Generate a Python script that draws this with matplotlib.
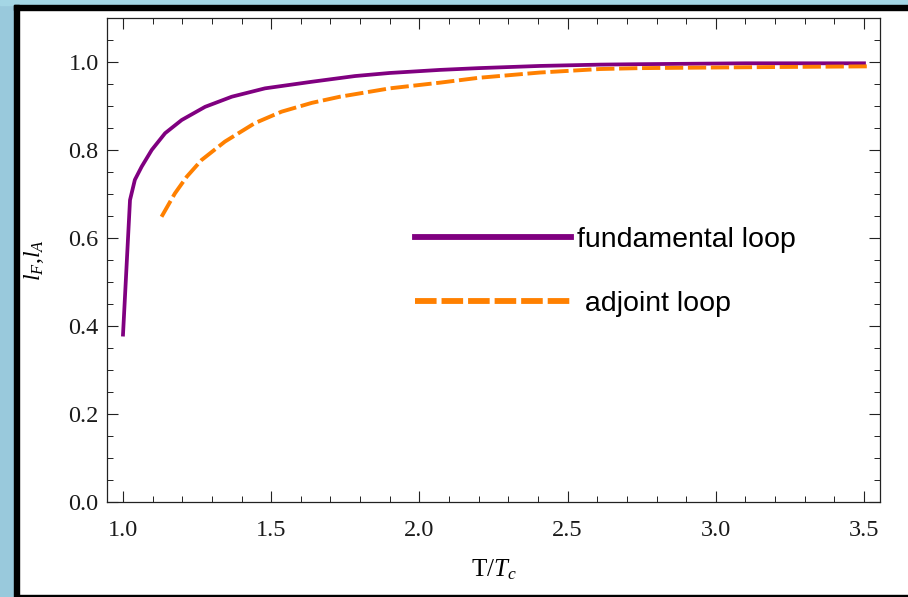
import numpy as np
import matplotlib
matplotlib.use("Agg")
import matplotlib.pyplot as plt
from matplotlib.lines import Line2D
from matplotlib.patches import Rectangle
from matplotlib.ticker import MultipleLocator, FormatStrFormatter

# ---- data ----
T_fund = [1.0, 1.0236, 1.04, 1.063, 1.097, 1.142, 1.198, 1.277, 1.367,
          1.479, 1.637, 1.783, 1.9, 2.07, 2.2, 2.407, 2.61, 2.744,
          3.1, 3.5]
l_fund = [0.38, 0.686, 0.732, 0.762, 0.800, 0.838, 0.868, 0.898, 0.921,
          0.940, 0.955, 0.968, 0.975, 0.982, 0.986, 0.991, 0.994, 0.995,
          0.997, 0.997]

T_adj = [1.13, 1.175, 1.215, 1.265, 1.344, 1.445, 1.535, 1.637, 1.732,
         1.9, 2.07, 2.2, 2.407, 2.61, 2.744, 3.1, 3.51]
l_adj = [0.648, 0.701, 0.739, 0.777, 0.819, 0.861, 0.887, 0.907, 0.921,
         0.940, 0.953, 0.964, 0.976, 0.984, 0.986, 0.988, 0.990]

labels = ['fundamental loop', ' adjoint loop']
PURPLE = '#800080'
ORANGE = '#FF8000'

plt.rcParams['font.family'] = ['Liberation Serif', 'DejaVu Serif']
plt.rcParams['mathtext.fontset'] = 'custom'
plt.rcParams['mathtext.rm'] = 'Liberation Serif'
plt.rcParams['mathtext.it'] = 'Liberation Serif:italic'


def main():
    fig = plt.figure(figsize=(9.08, 5.97), dpi=100)
    W, H = 908.0, 597.0

    # frame decoration around the figure (screenshot look)
    fig.patches.append(Rectangle((0, 0), 14 / W, 1, transform=fig.transFigure,
                                 color='#99C9DC', zorder=0))
    fig.patches.append(Rectangle((0, 1 - 5 / H), 1, 5 / H, transform=fig.transFigure,
                                 color='#A4D6E5', zorder=0))
    fig.patches.append(Rectangle((14 / W, 0), 5 / W, 1 - 5 / H, transform=fig.transFigure,
                                 color='black', zorder=1))
    fig.patches.append(Rectangle((14 / W, 1 - 10 / H), 1, 5 / H, transform=fig.transFigure,
                                 color='black', zorder=1))
    fig.patches.append(Rectangle((19 / W, 1.0 / H), 1, 1.2 / H, transform=fig.transFigure,
                                 color='black', zorder=1))

    ax = fig.add_axes([107 / W, 1 - 501.7 / H, 773 / W, 483.7 / H])

    ax.plot(T_fund, l_fund, color=PURPLE, lw=2.7, solid_joinstyle='round')
    ax.plot(T_adj, l_adj, color=ORANGE, lw=2.8, dashes=(4.7, 1.2),
            dash_capstyle='butt')

    ax.set_xlim(0.946, 3.554)
    ax.set_ylim(0.0, 1.1)
    ax.xaxis.set_major_locator(MultipleLocator(0.5))
    ax.xaxis.set_minor_locator(MultipleLocator(0.1))
    ax.yaxis.set_major_locator(MultipleLocator(0.2))
    ax.yaxis.set_minor_locator(MultipleLocator(0.05))
    ax.xaxis.set_major_formatter(FormatStrFormatter('%.1f'))
    ax.yaxis.set_major_formatter(FormatStrFormatter('%.1f'))

    for s in ax.spines.values():
        s.set_linewidth(0.9)
        s.set_color('#222222')
    ax.tick_params(which='both', direction='in', top=True, right=True,
                   color='#222222', labelsize=17.5, labelcolor='#1a1a1a')
    ax.tick_params(which='major', length=7.7, width=0.8)
    ax.tick_params(which='minor', length=4.2, width=0.7)
    ax.tick_params(axis='x', which='major', pad=13)
    ax.tick_params(axis='y', which='major', pad=6)

    ax.set_xlabel('T/$T_c$', fontsize=18, labelpad=12)
    ax.set_ylabel('$l_F$,$l_A$', fontsize=17, labelpad=16)

    handles = [Line2D([], [], color=PURPLE, lw=4.2),
               Line2D([], [], color=ORANGE, lw=4.2, dashes=(3.7, 0.85),
                      dash_capstyle='butt')]
    ax.legend(handles, labels, loc='upper left', bbox_to_anchor=(0.398, 0.568),
              frameon=False, borderpad=0, borderaxespad=0,
              handlelength=5.5, handletextpad=0.2, labelspacing=1.35,
              prop={'family': 'Liberation Sans', 'size': 20.5})

    fig.savefig('out.png', dpi=100, facecolor='white')


if __name__ == "__main__":
    main()
